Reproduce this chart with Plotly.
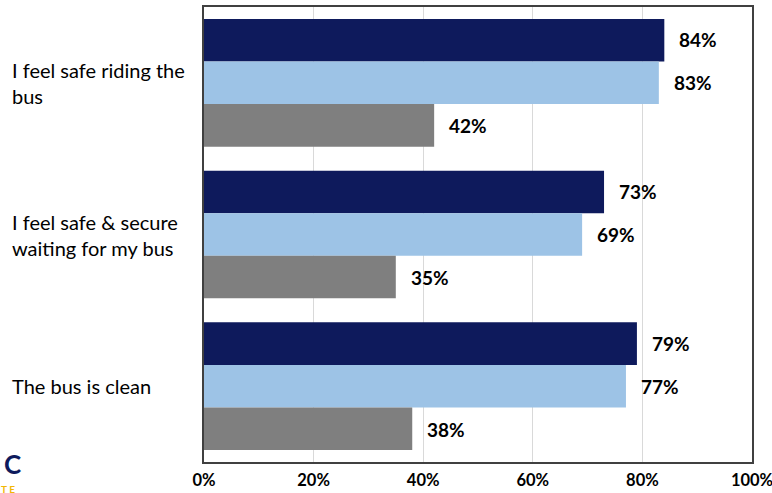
import plotly.graph_objects as go

categories = ["I feel safe riding the<br>bus",
              "I feel safe & secure<br>waiting for my bus",
              "The bus is clean"]
series_names = ["Series 1", "Series 2", "Series 3"]
series_values = {
    "Series 1": [0.84, 0.73, 0.79],
    "Series 2": [0.83, 0.69, 0.77],
    "Series 3": [0.42, 0.35, 0.38],
}
series_colors = {"Series 1": "#0E1A5C", "Series 2": "#9DC3E6", "Series 3": "#7F7F7F"}
tick_vals = [0, 0.2, 0.4, 0.6, 0.8, 1.0]
tick_text = ["0%", "20%", "40%", "60%", "80%", "100%"]

FONT = "Lato, 'Open Sans', sans-serif"

fig = go.Figure()
for name in series_names:
    fig.add_trace(go.Bar(
        y=categories, x=series_values[name], name=name, orientation="h",
        marker=dict(color=series_colors[name], line=dict(width=0)),
        showlegend=False, hoverinfo="x+y",
    ))

annotations = []
# data labels (placed from the data, offset a little to the right of each bar end)
n = len(series_names)
for i, name in enumerate(series_names):
    for c, v in zip(categories, series_values[name]):
        annotations.append(dict(
            xref="x", yref="y", x=v, y=c, text=f"<b>{v*100:.0f}%</b>",
            showarrow=False, xanchor="left", yanchor="middle", xshift=13,
            yshift=-(i - (n - 1) / 2) * 43,
            font=dict(family=FONT, size=19, color="#000000"),
        ))
for c in categories:
    annotations.append(dict(
        xref="paper", yref="y", x=-0.354, y=c, text=c, showarrow=False,
        xanchor="left", yanchor="middle", align="left",
        font=dict(family=FONT, size=20, color="#000000"),
    ))
# logo fragments at bottom-left
annotations.append(dict(xref="paper", yref="paper", x=-0.368, y=-0.004, text="<b>C</b>",
                        showarrow=False, xanchor="left", yanchor="middle",
                        font=dict(family=FONT, size=26, color="#0E1A5C")))
annotations.append(dict(xref="paper", yref="paper", x=-0.374, y=-0.059, text="<b>T E</b>",
                        showarrow=False, xanchor="left", yanchor="middle",
                        font=dict(family=FONT, size=10, color="#F2B705")))

fig.update_layout(
    width=772, height=493,
    margin=dict(l=204, r=20, t=7, b=31, autoexpand=False),
    paper_bgcolor="white", plot_bgcolor="white",
    barmode="group", bargap=0.158, bargroupgap=0,
    annotations=annotations,
    xaxis=dict(range=[0, 1], tickvals=tick_vals, ticktext=[f"<b>{t}</b>" for t in tick_text],
               showgrid=True, gridcolor="#D9D9D9", gridwidth=1,
               showline=True, linecolor="#404040", linewidth=2, mirror=True,
               ticks="", zeroline=False, ticklabeloverflow="allow", ticklabelstandoff=2,
               automargin=False,
               tickfont=dict(family=FONT, size=16.5, color="#000000")),
    yaxis=dict(autorange="reversed", showticklabels=False, ticks="",
               showline=True, linecolor="#404040", linewidth=2, mirror=True,
               showgrid=False, automargin=False),
)

fig.write_html("out.html", config={"displayModeBar": False},
               post_script="document.body.style.margin='0';document.body.style.overflow='hidden';")
